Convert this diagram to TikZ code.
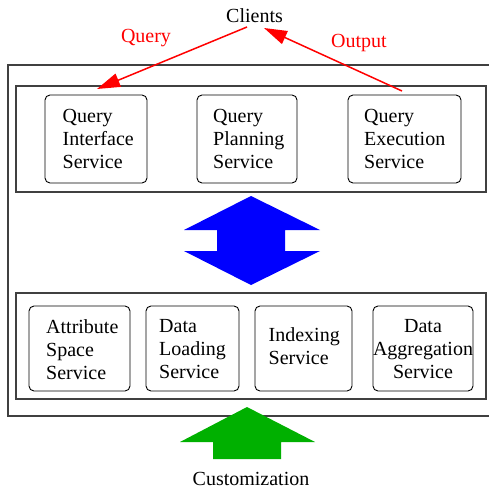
\documentclass[tikz,border=0pt]{standalone}
\usepackage{fontspec}
\setmainfont{Liberation Serif}
\usetikzlibrary{arrows.meta}
\definecolor{arrowgreen}{RGB}{0,176,0}
\begin{document}
\begin{tikzpicture}[x=1pt,y=-1pt,
  frame/.style={draw=black!75,line width=1.2pt,inner sep=0pt},
  svc/.style={draw,rounded corners=5pt,line width=0.9pt,inner sep=0pt},
  txt/.style={font=\fontsize{20}{23}\selectfont,inner sep=0pt,anchor=north west,align=left},
  lbl/.style={font=\fontsize{20}{23}\selectfont,inner sep=0pt,anchor=base},
  redarrow/.style={red,line width=1.5pt,-{Triangle[length=23pt,width=14pt]}}]
\useasboundingbox (0,0) rectangle (488,489);
% outer frame (right side runs off the picture)
\draw[black!75,line width=1.2pt] (496,65) -- (8,65) -- (8,416) -- (496,416);
% inner frames
\node[frame,minimum width=470pt,minimum height=106pt] (upper) at (251,139) {};
\node[frame,minimum width=470pt,minimum height=106pt] (lower) at (251,346) {};
% upper services
\node[svc,minimum width=102pt,minimum height=88pt] (qi) at (96,139) {};
\node[svc,minimum width=100pt,minimum height=88pt] (qp) at (247,139) {};
\node[svc,minimum width=113pt,minimum height=88pt] (qe) at (404.5,139) {};
\node[txt] (qit) at (62.5,109) {Query\\Interface\\Service};
\node[txt] (qpt) at (213,109) {Query\\Planning\\Service};
\node[txt] (qet) at (364,109) {Query\\Execution\\Service};
% lower services
\node[svc,minimum width=101pt,minimum height=85pt] (as) at (79.5,348.5) {};
\node[svc,minimum width=93pt,minimum height=85pt] (dl) at (192.5,348.5) {};
\node[svc,minimum width=97pt,minimum height=85pt] (ix) at (303.5,348.5) {};
\node[svc,minimum width=100pt,minimum height=85pt] (da) at (423,348.5) {};
\node[txt] (ast) at (46,319) {Attribute\\Space\\Service};
\node[txt] (dlt) at (159,319) {Data\\Loading\\Service};
\node[txt] (ixt) at (268.5,327) {Indexing\\Service};
\node[txt,anchor=north,align=center] (dat) at (423,319) {Data\\Aggregation\\Service};
% labels
\node[lbl] (clients) at (254.5,22.5) {Clients};
\node[lbl,red] (qlbl) at (146,43) {Query};
\node[lbl,red] (olbl) at (359,48) {Output};
\node[lbl] (cust) at (251,485) {Customization};
% red arrows
\coordinate (qs) at (247,27);
\coordinate (qe1) at (97,89);
\coordinate (os) at (402,91);
\coordinate (oe) at (264,28);
\draw[redarrow] (qs) -- (qe1);
\draw[redarrow] (os) -- (oe);
% blue double arrow
\fill[blue] (251,196) -- (320,230) -- (285,230) -- (285,251) -- (320,251)
  -- (251,285) -- (184,251) -- (217,251) -- (217,230) -- (184,230) -- cycle;
% green arrow
\fill[arrowgreen] (247,407) -- (315,442) -- (281,442) -- (281,459)
  -- (213,459) -- (213,442) -- (180,442) -- cycle;
\end{tikzpicture}
\end{document}
